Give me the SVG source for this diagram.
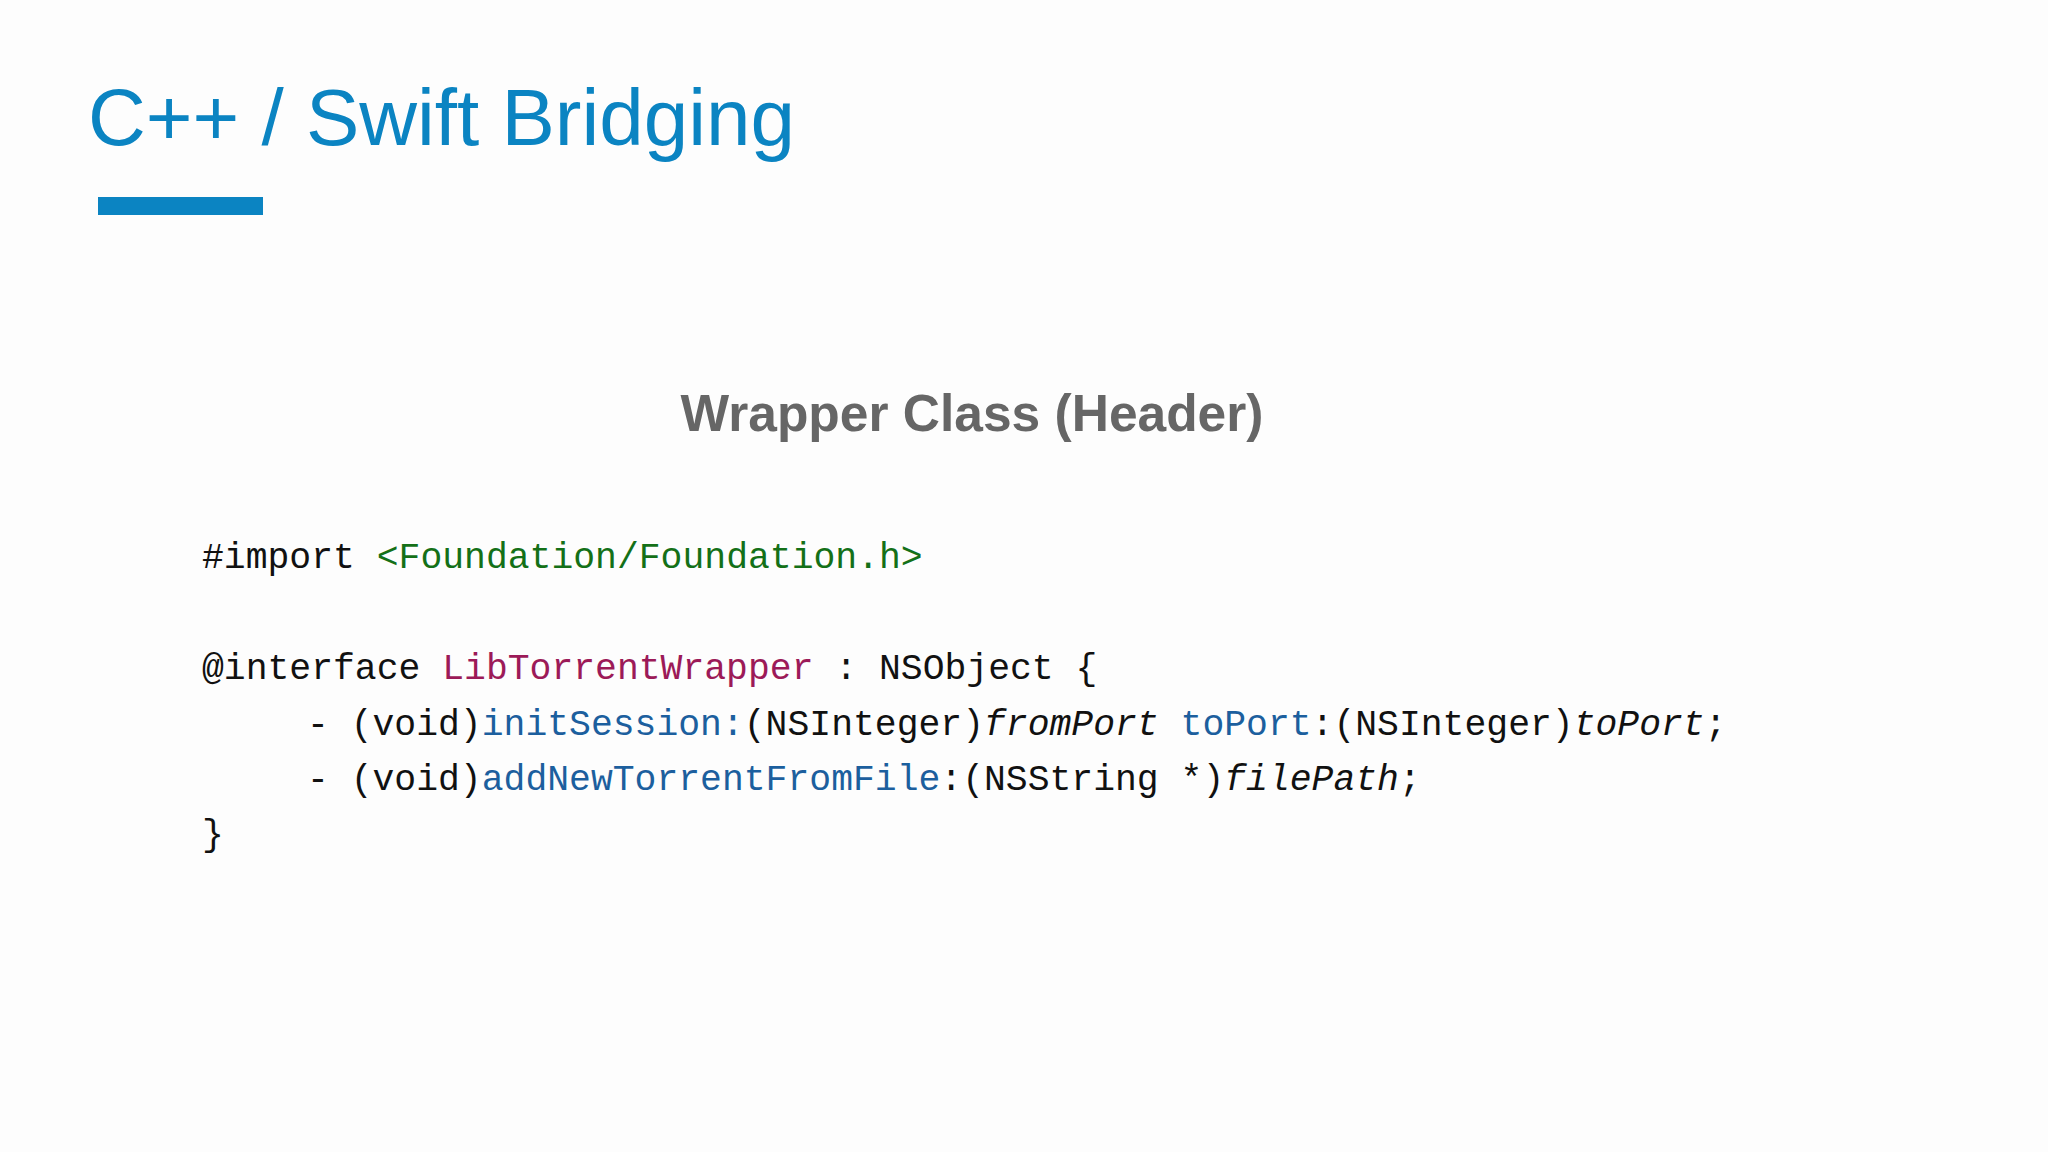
<svg xmlns="http://www.w3.org/2000/svg" width="2048" height="1152" viewBox="0 0 2048 1152">
<style>
.code{font-family:"Liberation Mono",monospace;font-size:36.4px;fill:#111}
.g{fill:#147018}.p{fill:#9c1a58}.b{fill:#1c5f9e}.i{font-style:italic}
</style>
<rect width="2048" height="1152" fill="#fdfdfd"/>
<g id="title">
<text x="88" y="145" font-family="Liberation Sans,Arial,sans-serif" font-size="80" fill="#0b84c2">C++ / Swift Bridging</text>
<rect x="98" y="197" width="165" height="18" fill="#0b84c2"/>
</g>
<g id="subtitle">
<text x="972" y="431" text-anchor="middle" font-family="Liberation Sans,Arial,sans-serif" font-weight="bold" font-size="51.5" fill="#666">Wrapper Class (Header)</text>
</g>
<g id="code" class="code">
<text x="202" y="568">#import <tspan class="g">&lt;Foundation/Foundation.h&gt;</tspan></text>
<text x="202" y="679">@interface <tspan class="p">LibTorrentWrapper</tspan> : NSObject {</text>
<text x="307" y="735">- (void)<tspan class="b">initSession:</tspan>(NSInteger)<tspan class="i">fromPort</tspan> <tspan class="b">toPort</tspan>:(NSInteger)<tspan class="i">toPort</tspan>;</text>
<text x="307" y="790">- (void)<tspan class="b">addNewTorrentFromFile</tspan>:(NSString *)<tspan class="i">filePath</tspan>;</text>
<text x="202" y="845">}</text>
</g>
</svg>
